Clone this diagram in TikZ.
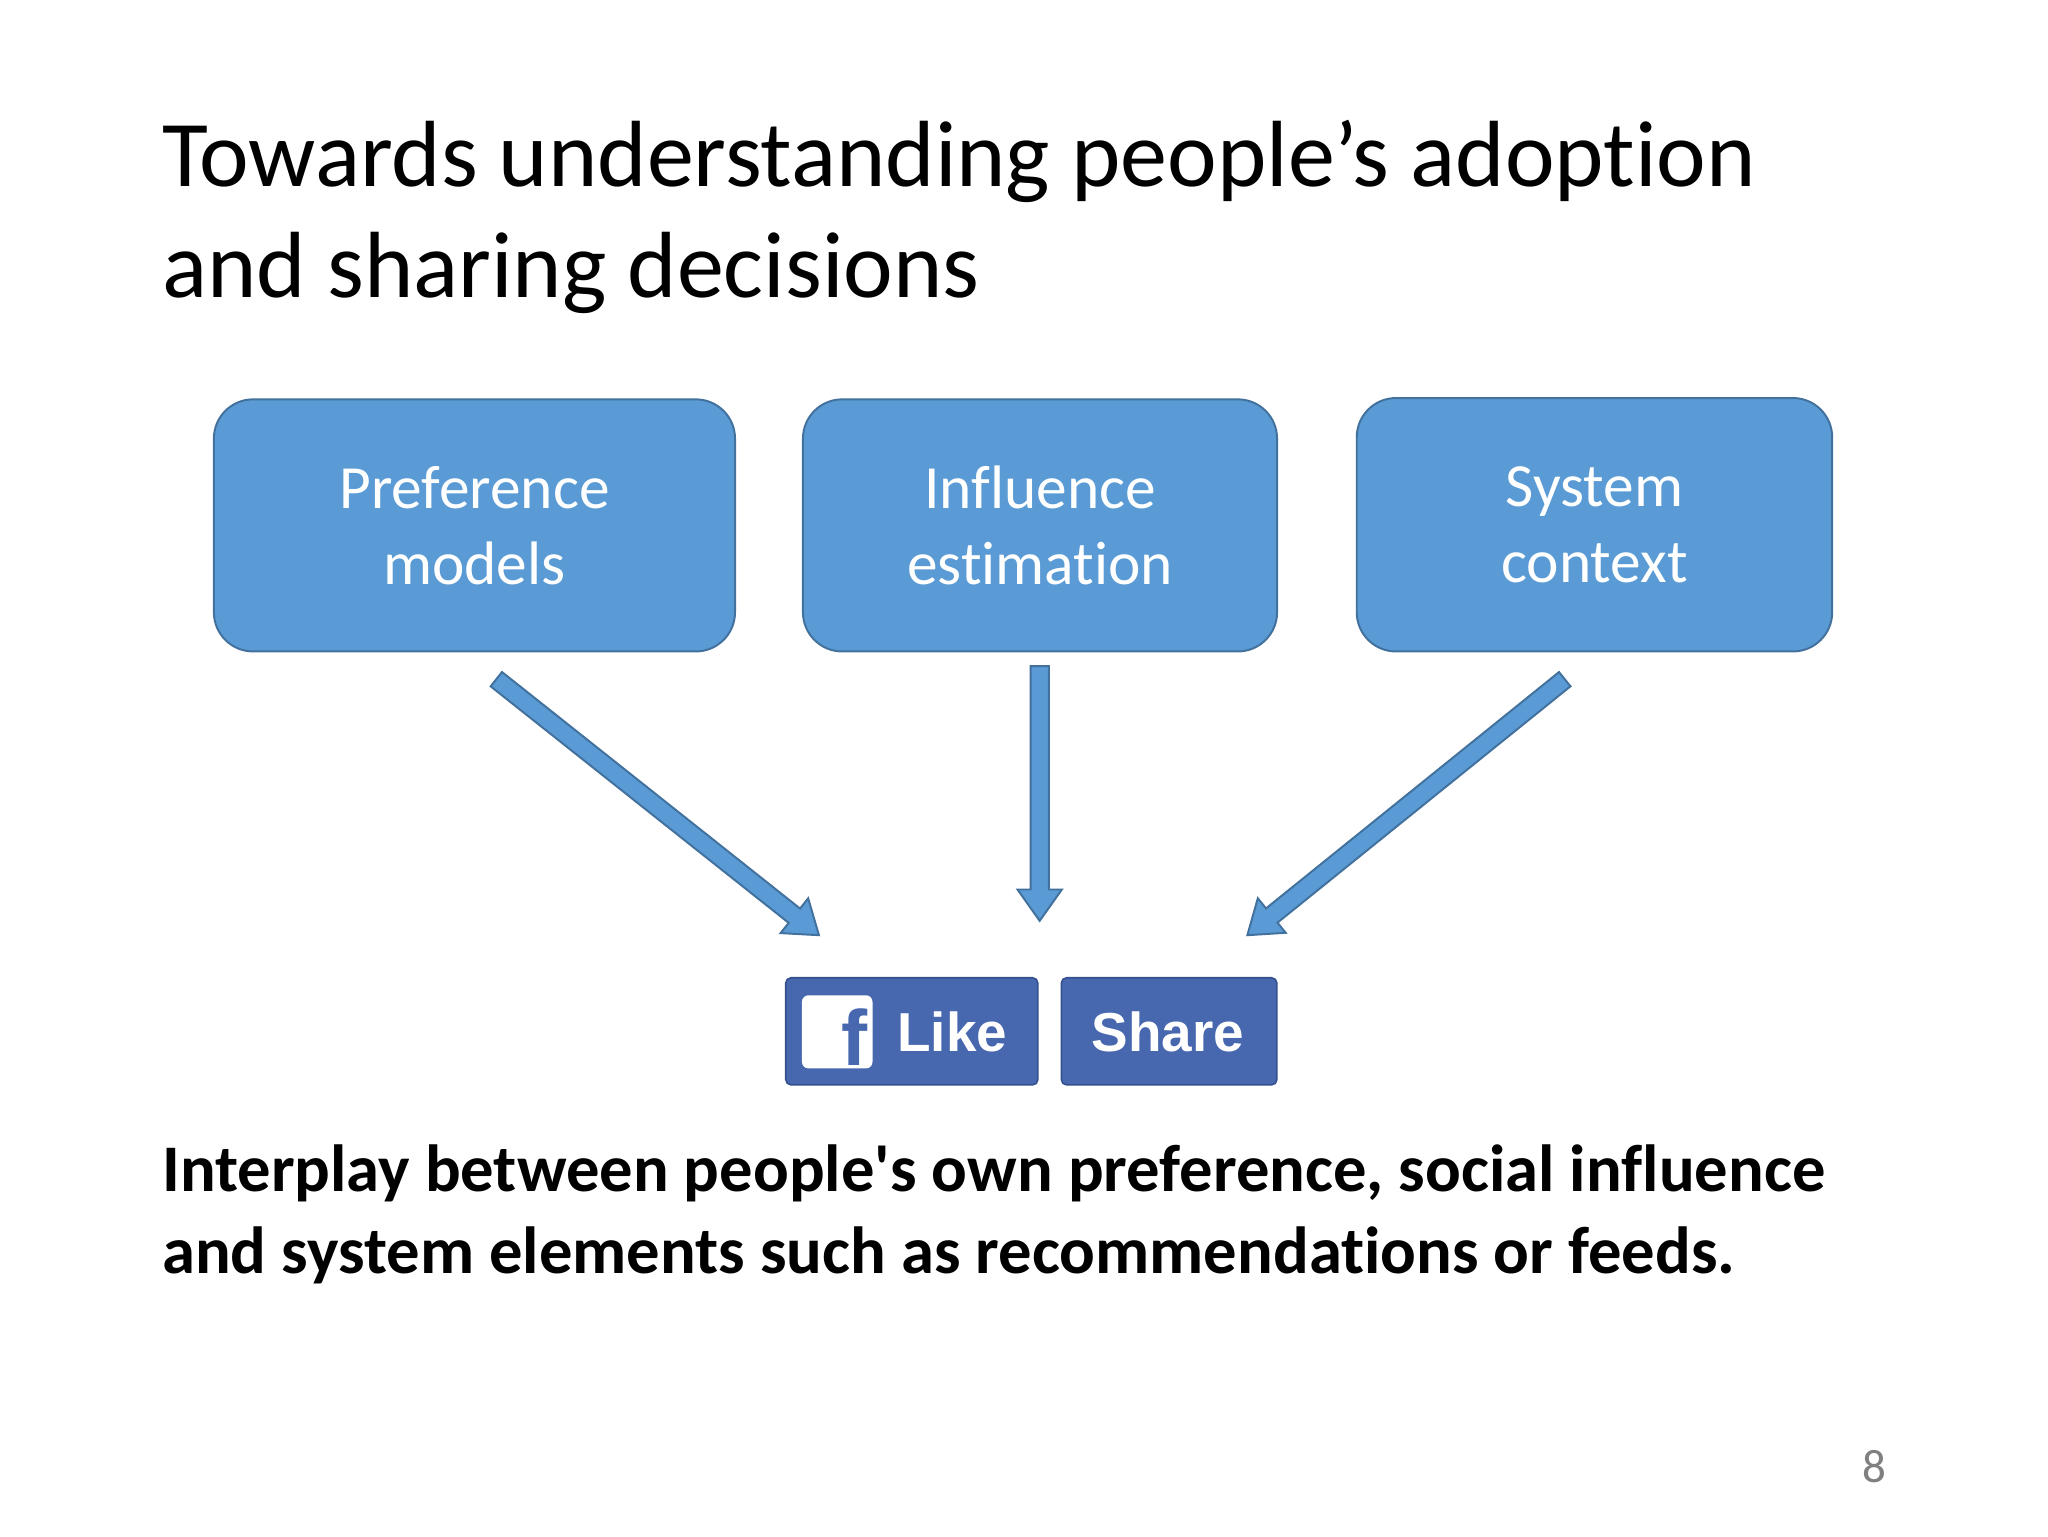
\documentclass[tikz,border=0pt]{standalone}
\usepackage{fontspec}
\setmainfont[Ligatures={NoCommon}]{Carlito}
\newfontfamily\fbfont{Liberation Sans}
\usetikzlibrary{calc}
\definecolor{boxfill}{HTML}{5B9BD5}
\definecolor{boxline}{HTML}{41719C}
\definecolor{fbblue}{HTML}{4767AE}
\definecolor{fbline}{HTML}{34508F}
\tikzset{
  box/.style={draw=boxline,line width=1.5pt,fill=boxfill,rounded corners=30pt,anchor=north west,inner sep=0pt,
    text=white,align=center,font=\fontsize{47}{58}\selectfont},
  fbbtn/.style={draw=fbline,line width=1.2pt,fill=fbblue,rounded corners=4pt,anchor=north west,inner sep=0pt},
  barrow/.style={draw=boxline,line width=1.5pt,fill=boxfill,line join=miter}
}
\newcommand\blockarrow[2]{%
  \path[barrow] ($(#1)!7pt!-90:(#2)$) -- ($($(#2)!24pt!(#1)$)!7pt!90:(#1)$)
   -- ($($(#2)!24pt!(#1)$)!17pt!90:(#1)$) -- (#2)
   -- ($($(#2)!24pt!(#1)$)!17pt!-90:(#1)$) -- ($($(#2)!24pt!(#1)$)!7pt!-90:(#1)$)
   -- ($(#1)!7pt!90:(#2)$) -- cycle;}
\begin{document}
\begin{tikzpicture}[x=1pt,y=-1pt]
\useasboundingbox[fill=white] (0,0) rectangle (1568,1176);
\node[anchor=base west,inner sep=0pt,font=\fontsize{72}{85}\selectfont] (t1) at (124,143) {Towards understanding people’s adoption};
\node[anchor=base west,inner sep=0pt,font=\fontsize{72}{85}\selectfont] (t2) at (124,228) {and sharing decisions};
\node[box,minimum width=399pt,minimum height=193pt] (pm) at (163,305) {Preference\\models};
\node[box,minimum width=363pt,minimum height=193pt] (ie) at (614,305) {Influence\\estimation};
\node[box,minimum width=364pt,minimum height=194pt] (sc) at (1038,304) {System\\context};
\coordinate (a1) at (380,520); \coordinate (b1) at (627,716);
\coordinate (a2) at (796,510); \coordinate (b2) at (796,705);
\coordinate (a3) at (1198,520); \coordinate (b3) at (955,716);
\blockarrow{a1}{b1}
\blockarrow{a2}{b2}
\blockarrow{a3}{b3}
\node[fbbtn,minimum width=193pt,minimum height=82pt] (like) at (601,748) {};
\node[fbbtn,minimum width=165pt,minimum height=82pt] (share) at (812,748) {};
\node[fill=white,rounded corners=5pt,minimum width=54pt,minimum height=56pt,inner sep=0pt] (fic) at (641,790) {};
\node[anchor=south east,inner sep=0pt,text=fbblue,font=\fbfont\bfseries\fontsize{60}{60}\selectfont] (f) at ($(fic.south east)+(-4pt,2pt)$) {f};
\node[text=white,font=\fbfont\bfseries\fontsize{42}{42}\selectfont,inner sep=0pt] (lt) at (729,790) {Like};
\node[text=white,font=\fbfont\bfseries\fontsize{42}{42}\selectfont,inner sep=0pt] (st) at (894,790) {Share};
\node[anchor=base west,inner sep=0pt,font=\bfseries\fontsize{51}{60}\selectfont] (c1) at (124,912) {Interplay between people\textquotesingle s own preference, social influence};
\node[anchor=base west,inner sep=0pt,font=\bfseries\fontsize{51}{60}\selectfont] (c2) at (124,975) {and system elements such as recommendations or feeds.};
\node[anchor=base,inner sep=0pt,text=gray,font=\fontsize{36}{36}\selectfont] (pg) at (1435,1135) {8};
\end{tikzpicture}
\end{document}
